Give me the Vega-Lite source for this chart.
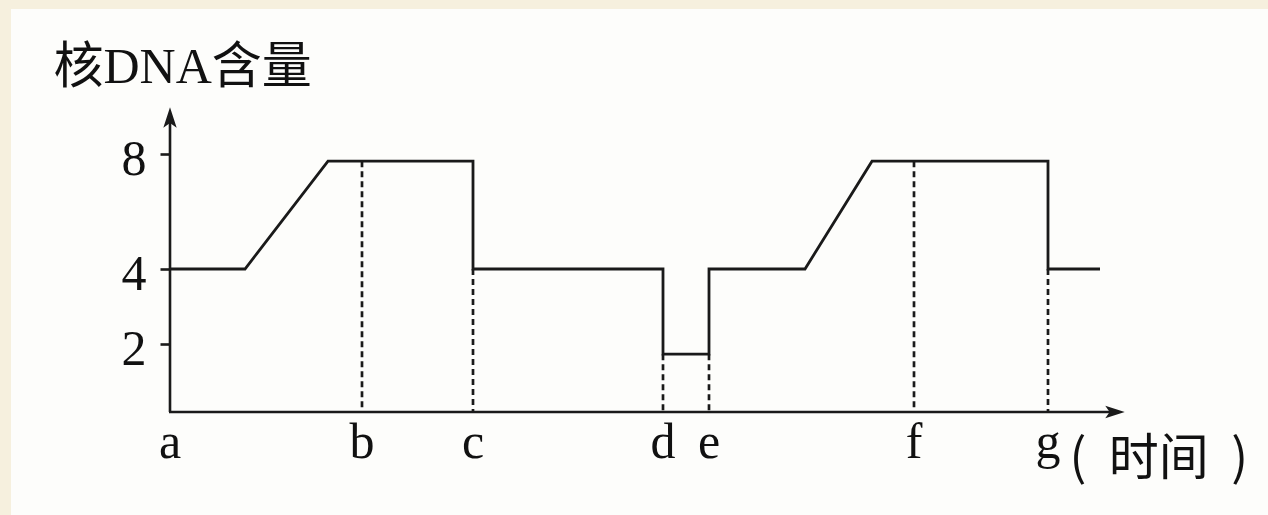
{
  "$schema": "https://vega.github.io/schema/vega-lite/v6.json",
  "autosize": {"type": "none"},
  "padding": {"left": 11, "top": 9, "right": 0, "bottom": 0},
  "width": 1257,
  "height": 506,
  "background": "#f6f0de",
  "config": {"view": {"fill": "#fdfdfb", "stroke": null}},
  "datasets": {
    "curve": [
      {"i": 1, "t": 0, "v": 4},
      {"i": 2, "t": 75, "v": 4},
      {"i": 3, "t": 158, "v": 7.75},
      {"i": 4, "t": 303, "v": 7.75},
      {"i": 5, "t": 303, "v": 4},
      {"i": 6, "t": 493, "v": 4},
      {"i": 7, "t": 493, "v": 1.7},
      {"i": 8, "t": 539, "v": 1.7},
      {"i": 9, "t": 539, "v": 4},
      {"i": 10, "t": 635, "v": 4},
      {"i": 11, "t": 702, "v": 7.75},
      {"i": 12, "t": 878, "v": 7.75},
      {"i": 13, "t": 878, "v": 4},
      {"i": 14, "t": 930, "v": 4}
    ],
    "events": [
      {"label": "a", "t": 0, "v": 0},
      {"label": "b", "t": 192, "v": 7.75},
      {"label": "c", "t": 303, "v": 4},
      {"label": "d", "t": 493, "v": 1.7},
      {"label": "e", "t": 539, "v": 1.7},
      {"label": "f", "t": 744, "v": 7.75},
      {"label": "g", "t": 878, "v": 4}
    ]
  },
  "layer": [
    {
      "data": {"name": "curve"},
      "mark": {"type": "line", "stroke": "#1a1a1a", "strokeWidth": 2.8, "strokeJoin": "miter"},
      "encoding": {
        "x": {
          "field": "t", "type": "quantitative",
          "scale": {"type": "linear", "domain": [-159, 1098], "nice": false, "zero": false},
          "axis": {
            "title": "(\u00a0\u00a0时间\u00a0\u00a0)", "labels": false, "ticks": false, "domain": false, "grid": false,
            "offset": -103, "titleX": 1058, "titleY": 62, "titleAngle": 0,
            "titleAlign": "left", "titleBaseline": "alphabetic",
            "titleFont": "Noto Sans CJK SC", "titleFontSize": 50, "titleFontWeight": "normal", "titleColor": "#111111"
          }
        },
        "y": {
          "field": "v", "type": "quantitative",
          "scale": {"type": "linear", "domain": [-3.03, 0, 2, 4, 8, 13.04], "range": [506, 403, 335, 260, 145, 0], "nice": false, "zero": false},
          "axis": {
            "title": "核DNA含量", "offset": -159, "values": [2, 4, 8], "domain": false, "grid": false,
            "tickSize": 10, "tickWidth": 2.6, "tickColor": "#1a1a1a",
            "labelFont": "Liberation Serif", "labelFontSize": 50, "labelPadding": 14, "labelColor": "#111111",
            "labelOffset": 5, "labelBaseline": "middle", "labelOverlap": false, "labelFlush": false,
            "titleAngle": 0, "titleX": -117, "titleY": 73, "titleAlign": "left", "titleBaseline": "alphabetic",
            "titleFont": "Liberation Serif, Noto Sans CJK SC", "titleFontSize": 50, "titleFontWeight": "normal", "titleColor": "#111111"
          }
        },
        "order": {"field": "i", "type": "quantitative"}
      }
    },
    {
      "data": {"name": "events"},
      "transform": [{"filter": "datum.v > 0"}],
      "mark": {"type": "rule", "stroke": "#1a1a1a", "strokeWidth": 2.7, "strokeDash": [6, 4]},
      "encoding": {
        "x": {"field": "t", "type": "quantitative"},
        "y": {"field": "v", "type": "quantitative"},
        "y2": {"datum": 0}
      }
    },
    {
      "data": {"name": "events"},
      "mark": {"type": "text", "font": "Liberation Serif", "fontSize": 50, "baseline": "alphabetic", "align": "center", "dy": 46, "color": "#111111"},
      "encoding": {
        "x": {"field": "t", "type": "quantitative"},
        "y": {"datum": 0, "type": "quantitative"},
        "text": {"field": "label"}
      }
    },
    {
      "data": {"values": [{}]},
      "mark": {"type": "rule", "stroke": "#1a1a1a", "strokeWidth": 2.6},
      "encoding": {
        "x": {"datum": 0, "type": "quantitative"},
        "y": {"datum": 0, "type": "quantitative"},
        "y2": {"datum": 9.3}
      }
    },
    {
      "data": {"values": [{}]},
      "mark": {"type": "rule", "stroke": "#1a1a1a", "strokeWidth": 2.6},
      "encoding": {
        "x": {"datum": -1, "type": "quantitative"},
        "x2": {"datum": 945},
        "y": {"datum": 0, "type": "quantitative"}
      }
    },
    {
      "data": {"values": [{}]},
      "mark": {"type": "point", "filled": true, "shape": "M0,-1L0.65,1L0,0.55L-0.65,1Z", "size": 420, "color": "#1a1a1a", "opacity": 1, "strokeWidth": 0},
      "encoding": {
        "x": {"datum": 0, "type": "quantitative"},
        "y": {"datum": 9.27, "type": "quantitative"}
      }
    },
    {
      "data": {"values": [{}]},
      "mark": {"type": "point", "filled": true, "shape": "M0,-1L0.65,1L0,0.55L-0.65,1Z", "size": 380, "angle": 90, "color": "#1a1a1a", "opacity": 1, "strokeWidth": 0},
      "encoding": {
        "x": {"datum": 945, "type": "quantitative"},
        "y": {"datum": 0, "type": "quantitative"}
      }
    }
  ]
}
